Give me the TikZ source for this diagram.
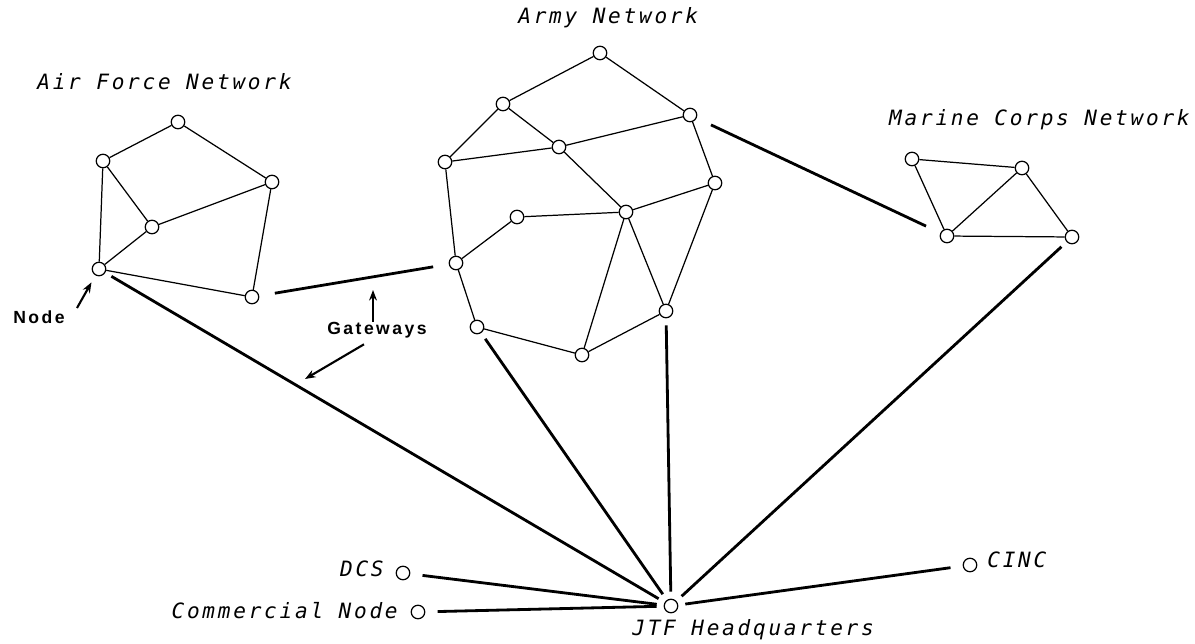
\documentclass[tikz,border=0pt]{standalone}
\usepackage{fontspec}
\newfontfamily\netfont[LetterSpace=13]{DejaVu Sans Mono}
\newfontfamily\notefont[LetterSpace=14]{Liberation Sans}
\usetikzlibrary{arrows.meta,calc}

\begin{document}
\begin{tikzpicture}[x=0.02cm,y=-0.02cm,
    stn/.style={circle,draw,line width=0.7pt,minimum size=0.27cm,inner sep=0pt},
    link/.style={line width=0.7pt},
    trunk/.style={line width=1.6pt,shorten <=4pt,shorten >=4pt},
    gate/.style={line width=1.6pt,shorten <=9pt,shorten >=9pt},
    title/.style={inner sep=0pt,font=\netfont\itshape\fontsize{12}{14}\selectfont},
    note/.style={anchor=west,inner sep=0pt,font=\notefont\bfseries\fontsize{10}{12}\selectfont},
    pointer/.style={line width=1.2pt,-{Stealth[length=6pt,width=4.5pt]}}]
  \useasboundingbox (0,0) rectangle (1195,643);

  % Air Force network
  \node[title,anchor=west] (aftitle) at (37,82) {Air Force Network};
  \node[stn] (a1) at (178,122) {};
  \node[stn] (a2) at (103,161) {};
  \node[stn] (a3) at (272,182) {};
  \node[stn] (a4) at (152,227) {};
  \node[stn] (a5) at (99,269) {};
  \node[stn] (a6) at (252,297) {};
  \foreach \p/\q in {a1/a2,a1/a3,a2/a4,a2/a5,a4/a3,a4/a5,a3/a6,a5/a6}
    \draw[link] (\p) -- (\q);

  % Army network
  \node[title,anchor=west] (armytitle) at (518,18) {Army Network};
  \node[stn] (b1) at (600,53) {};
  \node[stn] (b2) at (503,104) {};
  \node[stn] (b3) at (690,115) {};
  \node[stn] (b4) at (559,147) {};
  \node[stn] (b5) at (445,162) {};
  \node[stn] (b6) at (715,183) {};
  \node[stn] (b7) at (626,212) {};
  \node[stn] (b8) at (517,217) {};
  \node[stn] (b9) at (456,263) {};
  \node[stn] (b10) at (666,311) {};
  \node[stn] (b11) at (477,327) {};
  \node[stn] (b12) at (582,355) {};
  \foreach \p/\q in {b1/b2,b1/b3,b2/b5,b2/b4,b5/b4,b4/b3,b4/b7,b3/b6,b6/b7,
      b6/b10,b7/b8,b8/b9,b5/b9,b9/b11,b11/b12,b12/b10,b7/b12,b7/b10}
    \draw[link] (\p) -- (\q);

  % Marine Corps network
  \node[title,anchor=east] (mctitle) at (1190,120) {Marine Corps Network};
  \node[stn] (m1) at (912,159) {};
  \node[stn] (m2) at (1022,168) {};
  \node[stn] (m3) at (947,236) {};
  \node[stn] (m4) at (1072,237) {};
  \foreach \p/\q in {m1/m2,m1/m3,m3/m2,m2/m4,m3/m4}
    \draw[link] (\p) -- (\q);

  % headquarters and outside nodes
  \node[stn] (jtf) at (671,606) {};
  \node[stn] (dcs) at (403,573) {};
  \node[stn] (com) at (418,612) {};
  \node[stn] (cinc) at (970,565) {};
  \node[title,anchor=west] (jtflabel) at (632,630) {JTF Headquarters};
  \node[title,anchor=east] (dcslabel) at (384,569) {DCS};
  \node[title,anchor=east] (comlabel) at (398,611) {Commercial Node};
  \node[title,anchor=west] (cinclabel) at (987,560) {CINC};

  \foreach \p in {a5,b11,b10,m4}
    \draw[trunk] (\p) -- (jtf);
  \foreach \p in {dcs,com,cinc}
    \draw[trunk,shorten <=7pt] (\p) -- (jtf);

  % gateways
  \draw[gate] (a6) -- (b9);
  \draw[gate] (b3) -- (m3);

  % notes
  \node[note] (nodelabel) at (13,317) {Node};
  \node[note] (gwlabel) at (327,330) {Gateways};
  \coordinate (nodetail) at (77,308);
  \coordinate (gwup) at (373,290);
  \coordinate (gwdown) at (305,379);
  \draw[pointer,shorten >=4.5pt] (nodetail) -- (a5);
  \draw[pointer] (gwlabel.north -| gwup) -- (gwup);
  \draw[pointer] ($(gwlabel.south)+(-13,6)$) -- (gwdown);
\end{tikzpicture}
\end{document}
